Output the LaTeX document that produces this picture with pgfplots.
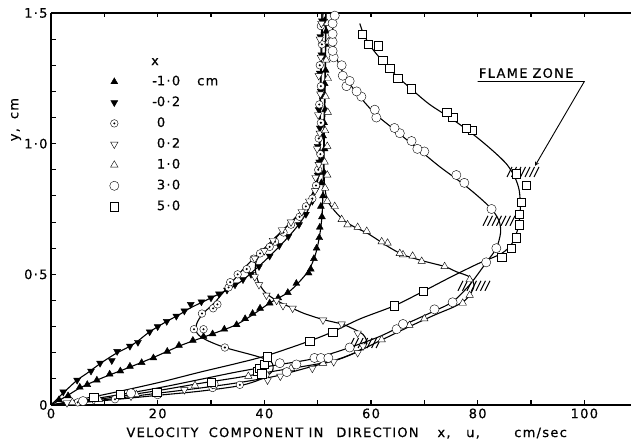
\documentclass[border=0pt]{standalone}
\usepackage{fontspec}
\setmainfont{DejaVu Sans}
\newfontfamily\lettering[LetterSpace=10, FakeBold=0.5]{DejaVu Sans}
\usepackage{pgfplots}
\pgfplotsset{compat=1.18}

\newcommand\lab{\lettering\fontsize{13}{15}\selectfont}

% circle with a centre dot
\pgfdeclareplotmark{odot}{%
  \pgfpathcircle{\pgfpointorigin}{\pgfplotmarksize}%
  \pgfusepathqfillstroke
  \begin{pgfscope}
    \pgfsetfillcolor{black}%
    \pgfpathcircle{\pgfpointorigin}{0.3\pgfplotmarksize}%
    \pgfusepathqfill
  \end{pgfscope}}

% hatching that marks the flame zone
\pgfdeclareplotmark{flame}{%
  \pgfpathmoveto{\pgfpoint{-16pt}{-5pt}}\pgfpathlineto{\pgfpoint{-11pt}{5pt}}%
  \pgfpathmoveto{\pgfpoint{-11.5pt}{-5pt}}\pgfpathlineto{\pgfpoint{-6.5pt}{5pt}}%
  \pgfpathmoveto{\pgfpoint{-7pt}{-5pt}}\pgfpathlineto{\pgfpoint{-2pt}{5pt}}%
  \pgfpathmoveto{\pgfpoint{-2.5pt}{-5pt}}\pgfpathlineto{\pgfpoint{2.5pt}{5pt}}%
  \pgfpathmoveto{\pgfpoint{2pt}{-5pt}}\pgfpathlineto{\pgfpoint{7pt}{5pt}}%
  \pgfpathmoveto{\pgfpoint{6.5pt}{-5pt}}\pgfpathlineto{\pgfpoint{11.5pt}{5pt}}%
  \pgfpathmoveto{\pgfpoint{11pt}{-5pt}}\pgfpathlineto{\pgfpoint{16pt}{5pt}}%
  \pgfusepathqstroke}

\pgfplotsset{
  fit/.style={smooth, tension=0.5, no marks, black, line width=1.1pt, forget plot},
  pts/.style={only marks, black, mark options={line width=1.1pt, solid}},
}

\begin{document}
\begin{tikzpicture}
\begin{axis}[
  scale only axis, width=580pt, height=392pt,
  xmin=0, xmax=108.75, ymin=0, ymax=1.5,
  axis x line*=box, axis y line*=left,
  axis line style={-, line width=1.5pt},
  xtick={0,20,40,60,80,100}, xticklabels={0,20,40,60,80,100},
  minor x tick num=1,
  xtick pos=both, xticklabel pos=lower,
  ytick={0,0.5,1,1.5}, yticklabels={0,0·5,1·0,1·5},
  minor y tick num=4,
  tick align=inside,
  major tick length=4.5pt, minor tick length=4.5pt,
  tick style={black, line width=1.1pt},
  ticklabel style={font=\lab},
  clip=false,
  legend style={at={(axis cs:10.97,1.270)}, anchor=north west,
    draw=none, fill=none, inner sep=0pt, row sep=3.8pt, column sep=35pt,
    font=\lab, nodes={inner sep=3pt, text height=9pt, text depth=2pt}},
  legend cell align=left,
]
\coordinate (O) at (axis cs:0,0);

% fitted profiles
\addplot[fit] coordinates {(0,0) (3,0.035) (5.4,0.065) (8.6,0.095) (11,0.115) (14.8,0.145) (19,0.18) (24,0.225) (26.6,0.245) (30,0.27) (34.5,0.305) (37.8,0.345) (41,0.39) (44.4,0.43) (46.5,0.47) (48.3,0.515) (49.5,0.57) (50.3,0.64) (50.8,0.72) (51,0.82) (51.1,0.95) (51.2,1.1) (51.4,1.3) (51.5,1.5)};
\addplot[fit] coordinates {(0,0) (2.5,0.05) (4.9,0.095) (7,0.125) (9.2,0.158) (12,0.195) (14.8,0.225) (16.3,0.245) (18.5,0.28) (21.7,0.32) (24,0.345) (26,0.37) (28.5,0.395) (31,0.42) (33.5,0.445) (35.8,0.475) (37.8,0.51) (40,0.55) (42.5,0.6) (44.8,0.65) (46.8,0.7) (48.3,0.75) (49.6,0.82) (50.2,0.9) (50.3,1.0) (50.5,1.2) (50.8,1.5)};
\addplot[fit] coordinates {(0,0) (10,0.017) (20,0.037) (28,0.053) (35.4,0.074) (39.5,0.1) (41.5,0.13) (41.3,0.165) (38.5,0.187) (32.6,0.22) (29,0.25) (27.4,0.275) (27.3,0.31) (28.5,0.35) (30.6,0.39) (33.5,0.46) (36.5,0.53) (40,0.6) (43,0.66) (46,0.72) (48.5,0.78) (50,0.86) (50.4,0.95) (50.5,1.1) (50.7,1.3) (51,1.5)};
\addplot[fit] coordinates {(0,0) (10,0.02) (20,0.045) (28,0.065) (35,0.085) (42,0.11) (48.5,0.145) (54,0.175) (57.5,0.205) (59.2,0.235) (58.5,0.27) (56.3,0.295) (54.5,0.31) (51,0.327) (47.5,0.35) (45.3,0.37) (42.3,0.4) (40.2,0.43) (38.9,0.47) (38.3,0.52) (38.7,0.56) (40.5,0.6) (43.3,0.665) (46,0.72) (48.3,0.78) (49.7,0.85) (50.3,0.95) (50.5,1.2) (50.8,1.5)};
\addplot[fit] coordinates {(0,0) (10,0.025) (20,0.055) (28,0.083) (35,0.105) (42,0.13) (52,0.165) (57,0.2) (61.6,0.245) (67.2,0.3) (72,0.345) (75.5,0.375) (77.6,0.4) (78.8,0.43) (79.3,0.46) (78.5,0.49) (76,0.51) (73.8,0.53) (70,0.55) (66,0.575) (62.9,0.61) (59.5,0.655) (57,0.68) (55,0.705) (53.3,0.74) (51.9,0.78) (51.3,0.84) (51.2,0.95) (51.4,1.2) (51.6,1.5)};
\addplot[fit] coordinates {(0,0) (10,0.03) (20,0.065) (28,0.098) (35,0.127) (42,0.152) (49.4,0.178) (56,0.22) (61.6,0.262) (66,0.305) (71.9,0.36) (75.3,0.395) (78.5,0.46) (81.6,0.545) (83.5,0.6) (84.3,0.66) (84,0.705) (82.6,0.75) (80,0.8) (77,0.85) (73,0.91) (70,0.96) (67,1.01) (64,1.06) (61,1.11) (58.5,1.165) (56.5,1.215) (54.8,1.27) (53.5,1.33) (52.9,1.4) (52.8,1.5)};
\addplot[fit] coordinates {(0,0) (10,0.04) (20,0.085) (28,0.126) (35,0.16) (40.6,0.19) (48.5,0.245) (52.8,0.28) (58,0.33) (64.4,0.38) (69.8,0.435) (75,0.49) (80,0.54) (84.5,0.58) (86.5,0.62) (87.6,0.68) (88,0.75) (87.8,0.82) (87,0.87) (85.5,0.92) (83,0.97) (79.5,1.03) (75.5,1.09) (71,1.15) (67.5,1.21) (64.5,1.265) (62,1.32) (60,1.37) (58.6,1.42) (57.9,1.46)};

% flame zone
\addplot[only marks, black, mark=flame, mark options={line width=1pt}, forget plot] coordinates {(88.5,0.892) (84.0,0.705) (79.3,0.456) (58.9,0.237)};

% measured points
\addplot[pts, mark=triangle*, mark size=4pt, mark options={fill=black}] coordinates {(1.5,0.02) (3.2,0.035) (5.4,0.068) (6.8,0.078) (8.6,0.095) (11,0.118) (13,0.13) (14.8,0.148) (17,0.162) (19.2,0.18) (21.8,0.205) (24,0.228) (26.6,0.247) (28.6,0.262) (30.3,0.272) (32.5,0.29) (34.8,0.307) (36.4,0.33) (37.8,0.35) (39.2,0.37) (41,0.39) (42.6,0.41) (44.4,0.43) (46,0.465) (48.3,0.505) (48.7,0.52) (49.3,0.56) (49.8,0.6) (50.3,0.64) (50.4,0.68) (50.8,0.72) (50.6,0.76) (51,0.8) (50.7,0.85) (51.2,0.89) (50.9,0.94) (51.3,0.98) (51,1.03) (51.2,1.08) (51.4,1.13) (51,1.18) (51.3,1.23) (51.5,1.28) (51.2,1.33) (51.5,1.38) (51.6,1.43) (51.3,1.47)};
\addlegendentry{\llap{-}1·0\hspace{17pt}cm}
\addplot[pts, mark=triangle*, mark size=4pt, mark options={fill=black, rotate=180}] coordinates {(2.3,0.05) (4.9,0.095) (7.5,0.13) (9.2,0.16) (11.4,0.17) (12.4,0.205) (14.8,0.225) (16.3,0.24) (18.5,0.28) (20,0.3) (21.7,0.32) (23.5,0.34) (25,0.36) (26.2,0.385) (28.2,0.395) (30,0.41) (31.5,0.425) (33,0.44) (34.5,0.46) (36,0.48) (37.5,0.5) (39,0.53) (41,0.57) (42.8,0.61) (44.5,0.645) (46.5,0.69) (47.8,0.73) (49,0.78) (49.8,0.83) (50,0.88) (50.3,0.93) (50,0.99) (50.4,1.06) (50.2,1.13) (50.6,1.2) (50.4,1.27) (50.7,1.34) (50.5,1.41) (50.8,1.47)};
\addlegendentry{\llap{-}0·2}
\addplot[pts, mark=odot, mark size=3.8pt, mark options={fill=white}] coordinates {(5,0.01) (12,0.022) (20,0.038) (30.3,0.065) (35.4,0.077) (40.2,0.115) (40.6,0.18) (32.6,0.22) (26.8,0.29) (28.6,0.29) (28.3,0.35) (30.4,0.37) (31.2,0.385) (33.3,0.45) (33.6,0.47) (35,0.5) (36.7,0.52) (38,0.56) (39.2,0.58) (41,0.605) (42,0.625) (43.6,0.66) (45,0.69) (46.6,0.72) (47.8,0.76) (49,0.79) (49.7,0.84) (50.1,0.9) (50.5,0.96) (50.2,1.02) (50.6,1.08) (50.3,1.15) (50.6,1.22) (50.4,1.3) (50.8,1.38) (50.6,1.45)};
\addlegendentry{0}
\addplot[pts, mark=triangle*, mark size=4.3pt, mark options={fill=white, rotate=180}] coordinates {(3,0.008) (8,0.018) (15,0.033) (25,0.058) (40.6,0.095) (43,0.11) (49,0.14) (53,0.165) (57.5,0.2) (58.5,0.225) (57.5,0.275) (54.5,0.31) (51,0.325) (45.3,0.37) (43.5,0.38) (42.3,0.4) (40.4,0.42) (39,0.46) (38.2,0.49) (38.2,0.56) (40,0.59) (41.6,0.63) (43.3,0.67) (45,0.7) (47,0.74) (48.4,0.78) (49.5,0.82) (49.6,0.87) (50.2,0.92) (49.9,0.98) (50.4,1.04) (50.1,1.11) (50.5,1.19) (50.2,1.26) (50.6,1.33) (50.4,1.4) (50.7,1.46)};
\addlegendentry{0·2}
\addplot[pts, mark=triangle*, mark size=4.3pt, mark options={fill=white}] coordinates {(4,0.01) (9,0.022) (16,0.04) (27,0.075) (37,0.11) (45,0.14) (51,0.16) (62,0.25) (67.2,0.305) (70,0.33) (77.2,0.39) (78.5,0.42) (78.5,0.48) (73.8,0.53) (69.5,0.55) (67.8,0.57) (66,0.575) (65.4,0.58) (63.1,0.62) (62,0.625) (59.2,0.665) (57.5,0.68) (55.6,0.69) (54.5,0.71) (53.2,0.76) (51.8,0.78) (51.4,0.83) (51.8,0.88) (51.3,0.93) (51.8,0.99) (51.4,1.05) (51.9,1.12) (51.5,1.18) (51.9,1.25) (51.6,1.32) (52,1.39) (51.8,1.46)};
\addlegendentry{1·0}
\addplot[pts, mark=*, mark size=4.6pt, mark options={fill=white}] coordinates {(6,0.015) (15,0.045) (30.5,0.08) (42.9,0.16) (44.2,0.126) (46,0.155) (49.4,0.18) (50.6,0.18) (52,0.18) (56,0.22) (64.8,0.29) (66,0.31) (71.9,0.366) (75.3,0.393) (81.6,0.546) (83.5,0.6) (82.6,0.75) (77.5,0.85) (76,0.88) (70,0.97) (68.7,0.98) (67.6,1.01) (65.4,1.04) (64.4,1.06) (61,1.1) (60.7,1.13) (58.2,1.18) (57.3,1.2) (55.4,1.22) (56,1.24) (54.7,1.26) (54.5,1.3) (53,1.33) (52.8,1.355) (52.8,1.39) (52.8,1.42) (52.8,1.46) (53.2,1.49)};
\addlegendentry{3·0}
\addplot[pts, mark=square*, mark size=4.1pt, mark options={fill=white}] coordinates {(8,0.03) (12.9,0.04) (19.8,0.05) (30.1,0.088) (38.6,0.13) (39,0.14) (39.5,0.12) (40,0.155) (40.6,0.185) (48.5,0.245) (52.8,0.28) (64.4,0.38) (69.8,0.435) (84.5,0.565) (86.3,0.6) (87.2,0.64) (87.8,0.69) (87.8,0.73) (88.2,0.775) (89.1,0.84) (87.2,0.885) (79,1.05) (77.9,1.06) (75.3,1.1) (74.2,1.12) (67.6,1.21) (65,1.25) (63.5,1.29) (62.2,1.32) (61.3,1.375) (59.4,1.38) (58.3,1.42)};
\addlegendentry{5·0}

% annotations
\node[font=\lab] at (axis cs:19.5,1.314) {x};
\node[font=\lab, rotate=90] at (axis cs:-6.56,1.092) {y,\hspace{9pt}cm};
\node[font=\lab, anchor=base west, inner sep=0pt] at (axis cs:80.2,1.252) {FLAME\hspace{5pt}ZONE};
\draw[black, line width=0.9pt, -stealth] (axis cs:80.0,1.238) -- (axis cs:100,1.238) -- (axis cs:90.75,0.915);
\node[font=\lab, anchor=base, inner sep=0pt] at (axis cs:20.9,-0.1226) {VELOCITY};
\node[font=\lab, anchor=base, inner sep=0pt] at (axis cs:38.44,-0.1226) {COMPONENT};
\node[font=\lab, anchor=base, inner sep=0pt] at (axis cs:49.69,-0.1226) {IN};
\node[font=\lab, anchor=base, inner sep=0pt] at (axis cs:61.22,-0.1226) {DIRECTION};
\node[font=\lab, anchor=base, inner sep=0pt] at (axis cs:73.69,-0.1226) {x,};
\node[font=\lab, anchor=base, inner sep=0pt] at (axis cs:79.13,-0.1226) {u,};
\node[font=\lab, anchor=base, inner sep=0pt] at (axis cs:91.79,-0.1226) {cm/sec};
\end{axis}
\pgfresetboundingbox
\path (O) ++(-51pt,-38pt) rectangle ++(631pt,443pt);
\end{tikzpicture}
\end{document}
